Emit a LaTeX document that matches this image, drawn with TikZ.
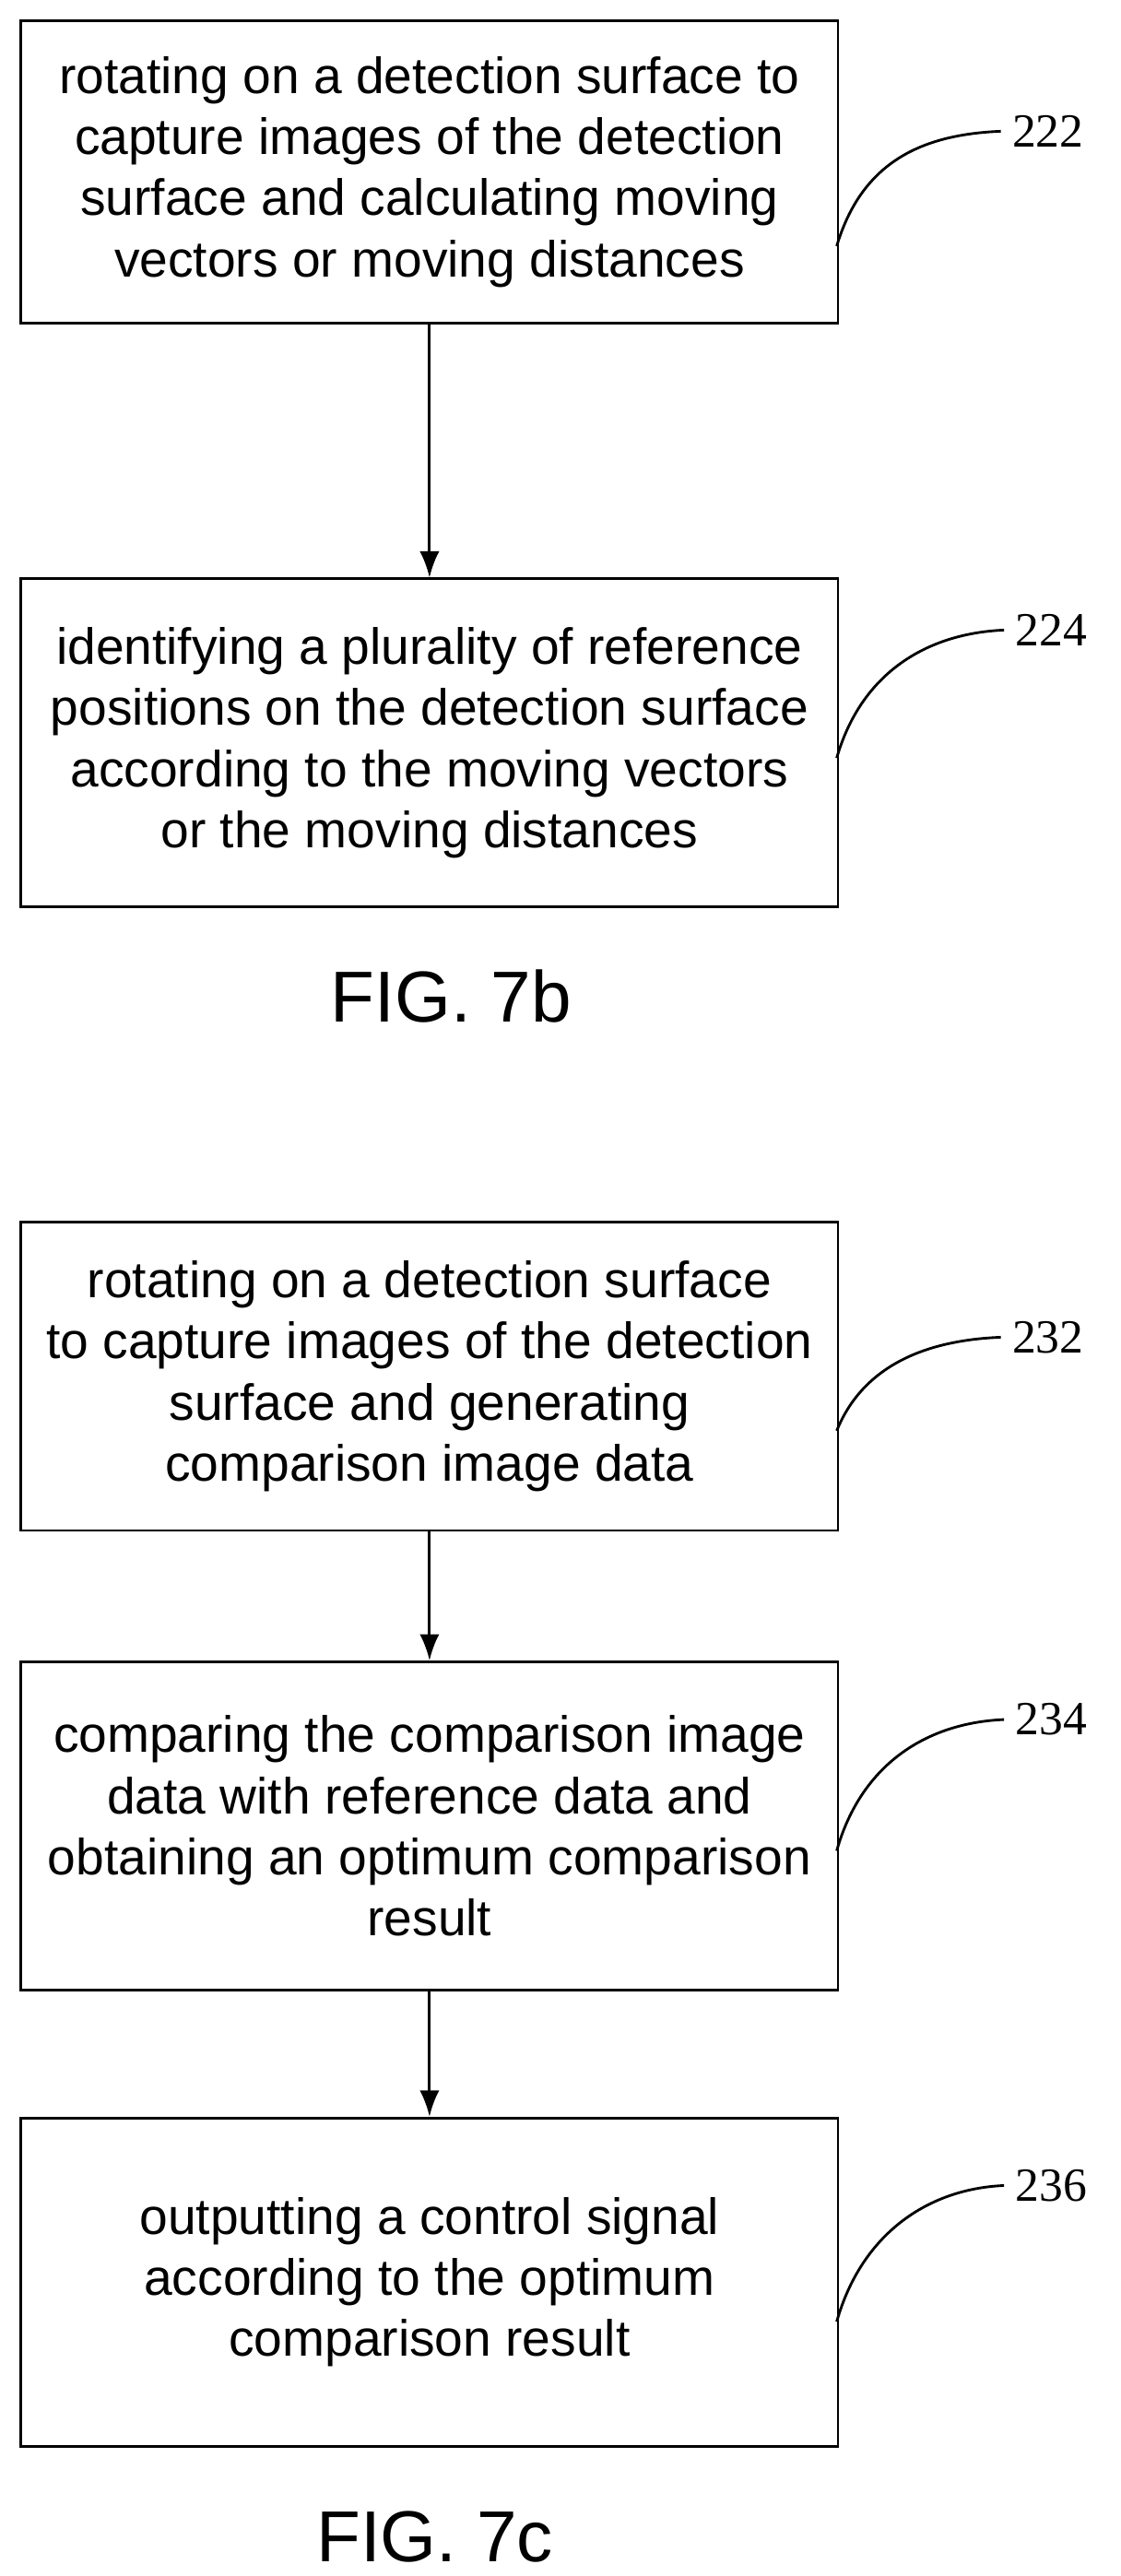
\documentclass[tikz,border=0pt]{standalone}
\usepackage{fontspec}
\usetikzlibrary{arrows.meta}
\setmainfont{Liberation Sans}
\newfontfamily\numfont{Liberation Serif}
\begin{document}
\begin{tikzpicture}[x=0.5pt,y=-0.5pt,
  box/.style={draw,line width=0.8pt,minimum width=249pt,anchor=north west,inner sep=0pt,align=center,font=\fontsize{15.5}{18.6}\selectfont},
  lbl/.style={font=\numfont\fontsize{14.5}{16}\selectfont,anchor=west},
  fig/.style={font=\fontsize{22}{26}\selectfont},
  arr/.style={-{Latex[length=8pt,width=6pt]},line width=0.8pt},
  crv/.style={line width=0.8pt}]
\useasboundingbox (0,0) rectangle (683,1570);
\node[box,minimum height=92pt] (b1) at (12,12) {rotating on a detection surface to\\capture images of the detection\\surface and calculating moving\\vectors or moving distances};
\node[box,minimum height=100pt] (b2) at (12,352) {identifying a plurality of reference\\positions on the detection surface\\according to the moving vectors\\or the moving distances};
\node[fig] (f1) at (275,607) {FIG. 7b};
\node[box,minimum height=94pt] (b3) at (12,744) {rotating on a detection surface\\to capture images of the detection\\surface and generating\\comparison image data};
\node[box,minimum height=100pt] (b4) at (12,1012) {comparing the comparison image\\data with reference data and\\obtaining an optimum comparison\\result};
\node[box,minimum height=100pt] (b5) at (12,1290) {outputting a control signal\\according to the optimum\\comparison result};
\node[fig] (f2) at (265,1546) {FIG. 7c};
\node[lbl] (l1) at (610,80) {222};
\node[lbl] (l2) at (612,384) {224};
\node[lbl] (l3) at (610,815) {232};
\node[lbl] (l4) at (612,1048) {234};
\node[lbl] (l5) at (612,1332) {236};
\draw[arr] (b1.south) -- (b2.north);
\draw[arr] (b3.south) -- (b4.north);
\draw[arr] (b4.south) -- (b5.north);
\coordinate (c1) at (510,150); \coordinate (c2) at (510,462);
\coordinate (c3) at (510,872); \coordinate (c4) at (510,1128); \coordinate (c5) at (510,1415);
\draw[crv] (c1) .. controls (525,100) and (560,82) .. (l1.west);
\draw[crv] (c2) .. controls (525,410) and (565,386) .. (l2.west);
\draw[crv] (c3) .. controls (525,835) and (560,817) .. (l3.west);
\draw[crv] (c4) .. controls (525,1075) and (565,1050) .. (l4.west);
\draw[crv] (c5) .. controls (525,1362) and (565,1334) .. (l5.west);
\end{tikzpicture}
\end{document}
